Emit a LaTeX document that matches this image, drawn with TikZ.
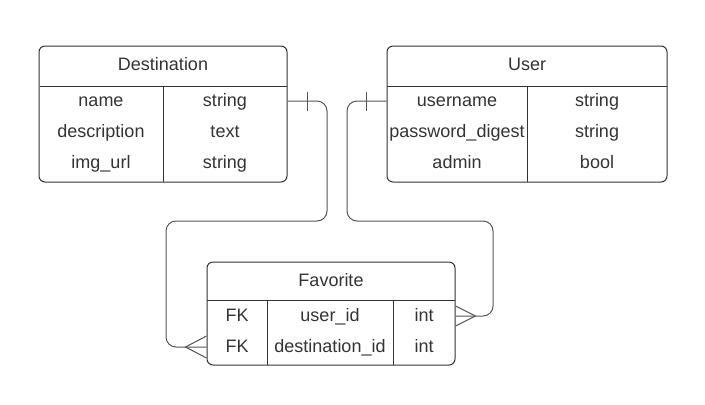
\documentclass[tikz,border=0pt]{standalone}
\usepackage{fontspec}
\setmainfont{Liberation Sans}
\usepackage{xcolor}
\definecolor{ink}{HTML}{333333}
\definecolor{wire}{HTML}{555555}

\begin{document}
\begin{tikzpicture}[x=0.75pt, y=-0.75pt,
  entity/.style={draw=ink, line width=0.75pt, rounded corners=4.5pt, inner sep=0pt},
  field/.style={font=\fontsize{13.5}{16}\selectfont, text=ink, text height=11pt, text depth=2.1pt, inner sep=0pt},
  rule/.style={draw=ink, line width=0.75pt},
  link/.style={draw=wire, line width=0.75pt}]
  \useasboundingbox (0,0) rectangle (705,404);

  % Destination table
  \node[entity, minimum width=248*0.75pt, minimum height=136*0.75pt] (dest) at (163,114) {};
  \node[field] (desttitle) at (163,65) {Destination};
  \draw[rule] (40,86) -- (287,86);
  \draw[rule] (163,86) -- (163,182);
  \node[field] (dname) at (101,101) {name};
  \node[field] (ddesc) at (101,132) {description};
  \node[field] (dimg) at (101,163) {img\_url};
  \node[field] (dnamet) at (225,101) {string};
  \node[field] (ddesct) at (225,132) {text};
  \node[field] (dimgt) at (225,163) {string};

  % User table
  \node[entity, minimum width=280*0.75pt, minimum height=136*0.75pt] (user) at (527,114) {};
  \node[field] (usertitle) at (527,65) {User};
  \draw[rule] (387,86) -- (667,86);
  \draw[rule] (527,86) -- (527,182);
  \node[field] (uname) at (457,101) {username};
  \node[field] (upass) at (457,132) {password\_digest};
  \node[field] (uadmin) at (457,163) {admin};
  \node[field] (unamet) at (597,101) {string};
  \node[field] (upasst) at (597,132) {string};
  \node[field] (uadmint) at (597,163) {bool};

  % Favorite table
  \node[entity, minimum width=248*0.75pt, minimum height=103*0.75pt] (fav) at (331,313.5) {};
  \node[field] (favtitle) at (331,281) {Favorite};
  \draw[rule] (207,300) -- (455,300);
  \draw[rule] (267,300) -- (267,365);
  \draw[rule] (393,300) -- (393,365);
  \node[field] (fk1) at (237,316) {FK};
  \node[field] (fk2) at (237,347) {FK};
  \node[field] (fuser) at (330,316) {user\_id};
  \node[field] (fdest) at (330,347) {destination\_id};
  \node[field] (fusert) at (424,316) {int};
  \node[field] (fdestt) at (424,347) {int};

  % Connectors (one -> many)
  \coordinate (dend) at (dname -| dest.east);
  \coordinate (uend) at (uname -| user.west);
  \coordinate (fdend) at (fdest -| fav.west);
  \coordinate (fuend) at (fuser -| fav.east);
  \draw[link, rounded corners=7.5pt] (dend) -| (327,221) -- (166,221) |- (fdend);
  \draw[link, rounded corners=7.5pt] (uend) -| (347,221) -- (493,221) |- (fuend);

  % one ends
  \draw[link] ([xshift=15pt]dend) ++(0,-9.5) -- ++(0,19);
  \draw[link] ([xshift=-15pt]uend) ++(0,-9.5) -- ++(0,19);

  % many ends
  \draw[link] (fdend) ++(0,-11) -- ++(-21,11) -- ++(21,11);
  \draw[link] (fuend) ++(0,-10) -- ++(20,10) -- ++(-20,10);
\end{tikzpicture}
\end{document}
